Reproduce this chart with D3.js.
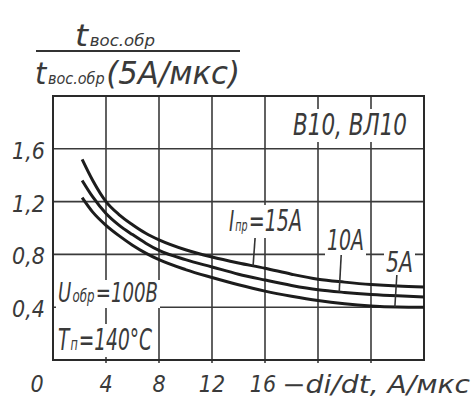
<!DOCTYPE html>
<html>
<head>
<meta charset="utf-8">
<script src="https://cdn.jsdelivr.net/npm/d3@7"></script>
<style>
  body { margin: 0; background: #fff; }
  svg text { font-family: "DejaVu Sans Condensed", "Liberation Sans", sans-serif; font-style: italic; fill: #3a3a3a; }
</style>
</head>
<body>
<div id="chart"></div>
<script>
// values
const didt = [2.2, 3, 4, 5, 6, 7, 8, 10, 12, 14, 16, 18, 20, 22, 24, 26, 28];
const t15 = [1.52, 1.36, 1.20, 1.10, 1.025, 0.96, 0.91, 0.835, 0.78, 0.735, 0.695, 0.65, 0.612, 0.59, 0.572, 0.56, 0.553];
const t10 = [1.36, 1.235, 1.11, 1.02, 0.95, 0.885, 0.83, 0.76, 0.705, 0.65, 0.606, 0.565, 0.532, 0.512, 0.497, 0.486, 0.478];
const t5 = [1.23, 1.12, 1.02, 0.94, 0.87, 0.81, 0.76, 0.685, 0.625, 0.57, 0.522, 0.483, 0.45, 0.426, 0.41, 0.402, 0.40];
const gridX = [4, 8, 12, 16, 20, 24];
const gridY = [0.4, 0.8, 1.2, 1.6];
const xTicks = [0, 4, 8, 12, 16];
const yTicks = [0.4, 0.8, 1.2, 1.6];
const yTickLabels = ["0,4", "0,8", "1,2", "1,6"];
// where each curve label's leader meets its curve
const leaderAt = [15.1, 21.6, 25.8];

var width = 476, height = 401;

var x = d3.scaleLinear().domain([0, 28]).range([53, 424]);
var y = d3.scaleLinear().domain([0, 2]).range([360, 96]);

var svg = d3.select("#chart").append("svg")
    .attr("width", width)
    .attr("height", height);

// grid
var grid = svg.append("g").attr("stroke", "#3a3a3a").attr("stroke-width", 1.6);
grid.selectAll(".gx").data(gridX).enter().append("line")
    .attr("x1", d => x(d)).attr("x2", d => x(d))
    .attr("y1", y(2)).attr("y2", y(0) + 3);
grid.selectAll(".gy").data(gridY).enter().append("line")
    .attr("x1", x(0)).attr("x2", x(28))
    .attr("y1", d => y(d)).attr("y2", d => y(d));

svg.append("rect")
    .attr("x", x(0)).attr("y", y(2))
    .attr("width", x(28) - x(0)).attr("height", y(0) - y(2))
    .attr("fill", "none").attr("stroke", "#2a2a2a").attr("stroke-width", 2);

// curves
var line = d3.line()
    .x((d, i) => x(didt[i]))
    .y(d => y(d))
    .curve(d3.curveMonotoneX);

var series = [t15, t10, t5];
svg.selectAll(".curve").data(series).enter().append("path")
    .attr("d", line)
    .attr("fill", "none")
    .attr("stroke", "#1c1c1c")
    .attr("stroke-width", 3);

function valueAt(s, xv) {
  var i = d3.bisectLeft(didt, xv);
  var t = (xv - didt[i - 1]) / (didt[i] - didt[i - 1]);
  return s[i - 1] + t * (s[i] - s[i - 1]);
}

// tick labels
svg.selectAll(".yl").data(yTicks).enter().append("text")
    .attr("x", 45).attr("y", d => y(d) + 10)
    .attr("text-anchor", "end")
    .style("font-size", "23px")
    .text((d, i) => yTickLabels[i]);

svg.selectAll(".xl").data(xTicks).enter().append("text")
    .attr("x", d => d === 0 ? x(d) - 16 : x(d) - (d === 16 ? 2 : 0))
    .attr("y", 392)
    .attr("text-anchor", "middle")
    .style("font-size", "23px")
    .text(d => d);

svg.append("text")
    .attr("x", 282).attr("y", 393)
    .attr("textLength", 188).attr("lengthAdjust", "spacingAndGlyphs")
    .style("font-size", "24px")
    .text("−di/dt, A/мкс");

// text made of big and small pieces, one text element each
function multi(px, py, parts, len) {
  var t = svg.append("text").attr("x", px).attr("y", py);
  parts.forEach((p, i) => t.append("tspan").attr("dx", i ? 1.5 : 0)
      .style("font-size", p[0] + "px").text(p[1]));
  if (len) t.attr("textLength", len).attr("lengthAdjust", "spacingAndGlyphs");
  return t;
}

// y title as a fraction
multi(75, 46, [[30, "t"], [15, "вос.обр"]], 80);
svg.append("line")
    .attr("x1", 36).attr("x2", 240).attr("y1", 51).attr("y2", 51)
    .attr("stroke", "#333").attr("stroke-width", 2);
multi(35, 84, [[30, "t"], [15, "вос.обр"], [32, "(5A/мкс)"]], 205);

// annotations with white backing
function label(px, py, parts, len) {
  var g = svg.append("g");
  var t = g.append("text").attr("x", px).attr("y", py);
  parts.forEach((p, i) => t.append("tspan").attr("dx", i ? 1.5 : 0)
      .style("font-size", p[0] + "px").text(p[1]));
  if (len) t.attr("textLength", len).attr("lengthAdjust", "spacingAndGlyphs");
  var b = t.node().getBBox();
  g.insert("rect", "text")
      .attr("x", b.x - 2).attr("y", b.y + 2)
      .attr("width", b.width + 4).attr("height", b.height - 2)
      .attr("fill", "#fff");
  return g;
}

label(293, 135, [[30, "В10, ВЛ10"]], 114);
label(58, 302, [[26, "U"], [17, "обр"], [26, "=100В"]], 100);
label(58, 350, [[30, "T"], [18, "п"], [30, "=140°C"]], 94);
label(229, 231, [[28, "I"], [15, "пр"], [30, "=15A"]], 73);
label(327, 250, [[29, "10A"]], 37);
label(386, 272, [[29, "5A"]], 27);

// leaders from labels to their curves
var leaderTop = [238, 255, 275];
svg.selectAll(".leader").data(leaderAt).enter().append("line")
    .attr("x1", (d, i) => x(d) + 2).attr("y1", (d, i) => leaderTop[i])
    .attr("x2", d => x(d))
    .attr("y2", (d, i) => y(valueAt(series[i], d)))
    .attr("stroke", "#333").attr("stroke-width", 1.6);
</script>
</body>
</html>
